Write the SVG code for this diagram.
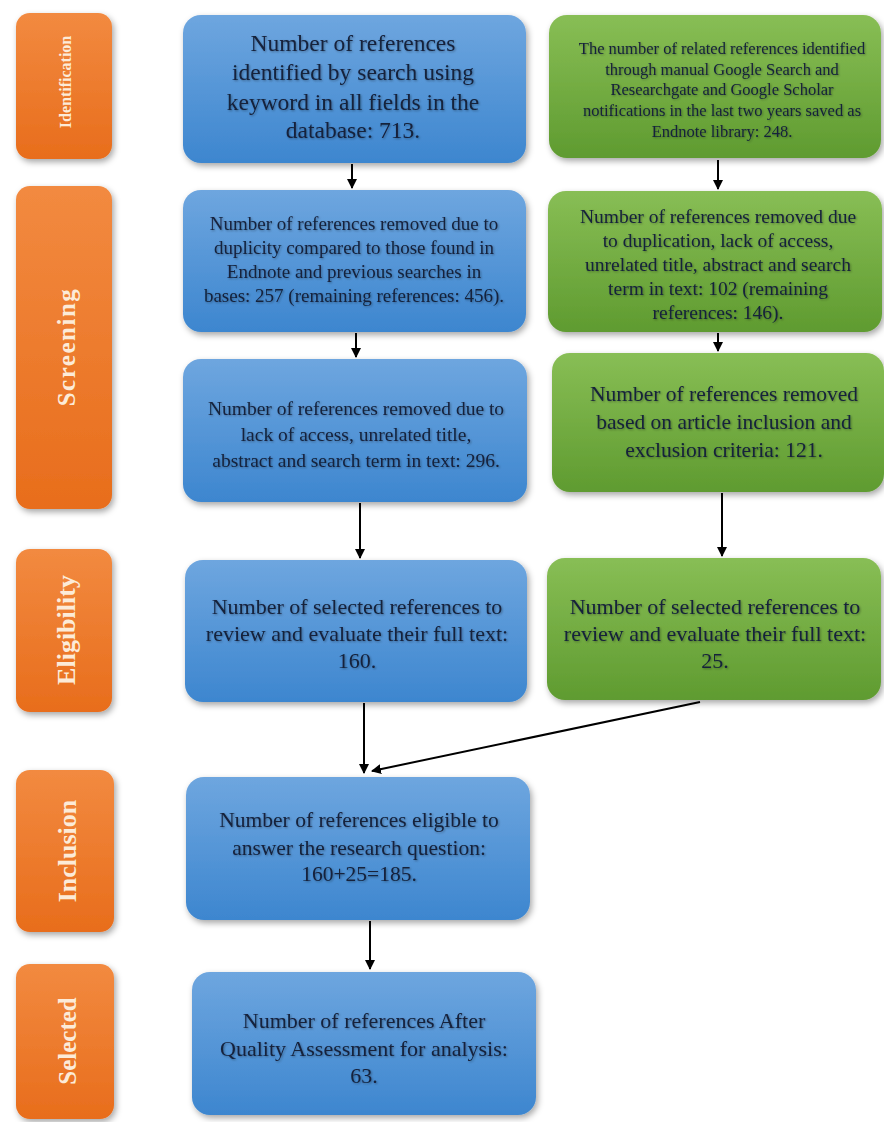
<svg xmlns="http://www.w3.org/2000/svg" width="884" height="1122" viewBox="0 0 884 1122">
<defs>
<linearGradient id="gBlue" x1="0" y1="0" x2="0" y2="1"><stop offset="0" stop-color="#6ea6df"/><stop offset="1" stop-color="#3d86cf"/></linearGradient>
<linearGradient id="gGreen" x1="0" y1="0" x2="0" y2="1"><stop offset="0" stop-color="#88be55"/><stop offset="1" stop-color="#5f9b30"/></linearGradient>
<linearGradient id="gOrange" x1="0" y1="0" x2="0" y2="1"><stop offset="0" stop-color="#f28a40"/><stop offset="1" stop-color="#e86d1c"/></linearGradient>
<filter id="sh" x="-10%" y="-10%" width="125%" height="125%"><feDropShadow dx="2" dy="3" stdDeviation="3" flood-color="#000" flood-opacity="0.35"/></filter>
<filter id="tsh" x="-5%" y="-20%" width="110%" height="140%"><feDropShadow dx="1" dy="1" stdDeviation="0.8" flood-color="#000" flood-opacity="0.35"/></filter>
<marker id="ah" viewBox="0 0 10 10" refX="9" refY="5" markerWidth="5" markerHeight="5" orient="auto"><path d="M0,0 L10,5 L0,10 z" fill="#000"/></marker>
</defs>
<style>
.blue{fill:url(#gBlue);filter:url(#sh)}
.green{fill:url(#gGreen);filter:url(#sh)}
.orange{fill:url(#gOrange);filter:url(#sh)}
.t{font-family:"Liberation Serif","Times New Roman",serif;fill:#14203a;text-anchor:middle;filter:url(#tsh)}
.o{font-family:"Liberation Serif","Times New Roman",serif;fill:#fcebd8;font-weight:bold;text-anchor:middle}
.c{stroke:#000;stroke-width:2;fill:none;marker-end:url(#ah)}
</style>
<rect width="884" height="1122" fill="#fff"/>

<g id="stage-identification"><rect class="orange" x="16" y="13" width="96" height="146" rx="14"/><text class="o" font-size="16" transform="translate(71,82) rotate(-90)">Identification</text></g>
<g id="stage-screening"><rect class="orange" x="16" y="186" width="96" height="323" rx="14"/><text class="o" font-size="25" letter-spacing="1.5" transform="translate(75,347) rotate(-90)">Screening</text></g>
<g id="stage-eligibility"><rect class="orange" x="16" y="549" width="96" height="163" rx="14"/><text class="o" font-size="26" transform="translate(75,630) rotate(-90)">Eligibility</text></g>
<g id="stage-inclusion"><rect class="orange" x="16" y="770" width="98" height="162" rx="14"/><text class="o" font-size="26" transform="translate(76,851) rotate(-90)">Inclusion</text></g>
<g id="stage-selected"><rect class="orange" x="16" y="964" width="98" height="155" rx="14"/><text class="o" font-size="25" transform="translate(76,1041) rotate(-90)">Selected</text></g>

<g id="b1"><rect class="blue" x="183" y="15" width="343" height="148" rx="18"/>
<text class="t" font-size="23.5"><tspan x="353" y="51">Number of references</tspan><tspan x="353" y="80">identified  by search using</tspan><tspan x="353" y="110">keyword in all fields in the</tspan><tspan x="353" y="138">database: 713.</tspan></text></g>

<g id="g1"><rect class="green" x="549" y="15" width="332" height="143" rx="18"/>
<text class="t" font-size="16.5"><tspan x="722" y="54">The number of related references identified</tspan><tspan x="722" y="75">through manual Google Search and</tspan><tspan x="722" y="95">Researchgate and Google Scholar</tspan><tspan x="722" y="116">notifications in the last two years saved as</tspan><tspan x="722" y="137">Endnote library: 248.</tspan></text></g>

<g id="b2"><rect class="blue" x="183" y="190" width="343" height="142" rx="18"/>
<text class="t" font-size="19"><tspan x="354" y="230">Number of references removed due to</tspan><tspan x="354" y="254">duplicity compared to those found in</tspan><tspan x="354" y="278">Endnote and previous searches in</tspan><tspan x="354" y="302">bases: 257 (remaining references: 456).</tspan></text></g>

<g id="g2"><rect class="green" x="548" y="191" width="334" height="141" rx="18"/>
<text class="t" font-size="19.5"><tspan x="718" y="223">Number of references removed due</tspan><tspan x="718" y="247">to duplication, lack of access,</tspan><tspan x="718" y="271">unrelated title, abstract and search</tspan><tspan x="718" y="295">term in text: 102  (remaining</tspan><tspan x="718" y="319">references: 146).</tspan></text></g>

<g id="b3"><rect class="blue" x="183" y="359" width="344" height="143" rx="18"/>
<text class="t" font-size="19.5"><tspan x="356" y="415">Number of references removed due to</tspan><tspan x="356" y="441">lack of access, unrelated title,</tspan><tspan x="356" y="467">abstract and search term in text: 296.</tspan></text></g>

<g id="g3"><rect class="green" x="552" y="353" width="332" height="139" rx="18"/>
<text class="t" font-size="21.5"><tspan x="724" y="401">Number of references removed</tspan><tspan x="724" y="429">based on article inclusion and</tspan><tspan x="724" y="457">exclusion criteria: 121.</tspan></text></g>

<g id="b4"><rect class="blue" x="185" y="560" width="342" height="142" rx="18"/>
<text class="t" font-size="22"><tspan x="357" y="614">Number of selected references to</tspan><tspan x="357" y="641">review and evaluate their full text:</tspan><tspan x="357" y="668">160.</tspan></text></g>

<g id="g4"><rect class="green" x="547" y="558" width="334" height="142" rx="18"/>
<text class="t" font-size="22"><tspan x="715" y="614">Number of selected references to</tspan><tspan x="715" y="641">review and evaluate their full text:</tspan><tspan x="715" y="668">25.</tspan></text></g>

<g id="b5"><rect class="blue" x="186" y="777" width="344" height="143" rx="18"/>
<text class="t" font-size="21.5"><tspan x="359" y="827">Number of references eligible to</tspan><tspan x="359" y="855">answer the research question:</tspan><tspan x="359" y="881">160+25=185.</tspan></text></g>

<g id="b6"><rect class="blue" x="192" y="972" width="344" height="143" rx="18"/>
<text class="t" font-size="22"><tspan x="364" y="1028">Number of references After</tspan><tspan x="364" y="1056">Quality Assessment for analysis:</tspan><tspan x="364" y="1083">63.</tspan></text></g>

<g id="connectors">
<line class="c" x1="352" y1="164" x2="352" y2="188"/>
<line class="c" x1="718" y1="160" x2="718" y2="189"/>
<line class="c" x1="356" y1="333" x2="356" y2="357"/>
<line class="c" x1="718" y1="333" x2="718" y2="351"/>
<line class="c" x1="360" y1="503" x2="360" y2="558"/>
<line class="c" x1="722" y1="493" x2="722" y2="556"/>
<line class="c" x1="364" y1="703" x2="364" y2="773"/>
<line class="c" x1="700" y1="702" x2="372" y2="771"/>
<line class="c" x1="370" y1="921" x2="370" y2="969"/>
</g>
</svg>
